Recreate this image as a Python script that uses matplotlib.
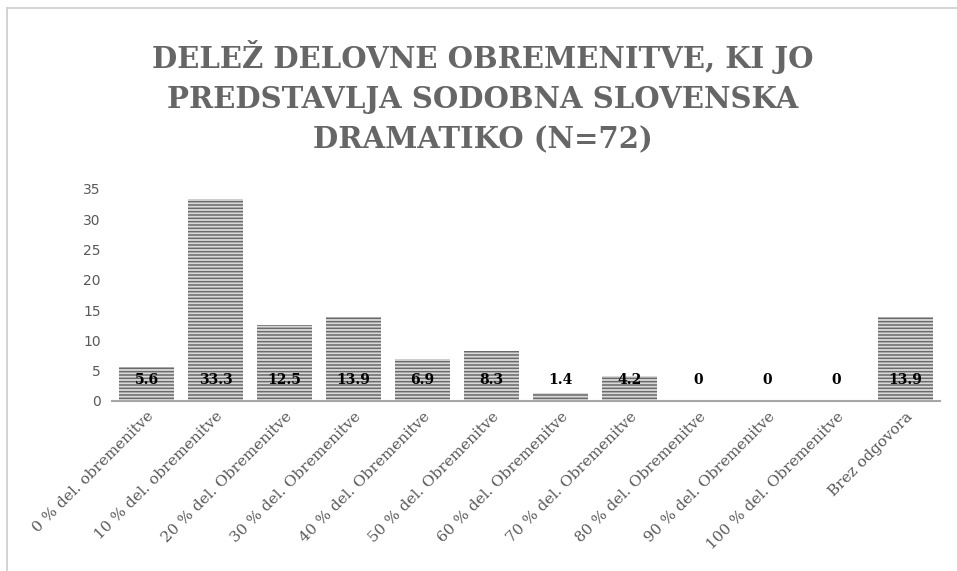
import matplotlib
matplotlib.use('Agg')
from matplotlib import pyplot as plt
from matplotlib.lines import Line2D

# Data
categories = ['0 % del. obremenitve', '10 % del. obremenitve', '20 % del. Obremenitve',
              '30 % del. Obremenitve', '40 % del. Obremenitve', '50 % del. Obremenitve',
              '60 % del. Obremenitve', '70 % del. Obremenitve', '80 % del. Obremenitve',
              '90 % del. Obremenitve', '100 % del. Obremenitve', 'Brez odgovora']
values = [5.6, 33.3, 12.5, 13.9, 6.9, 8.3, 1.4, 4.2, 0, 0, 0, 13.9]
yticks = [0, 5, 10, 15, 20, 25, 30, 35]
title = 'DELEŽ DELOVNE OBREMENITVE, KI JO\nPREDSTAVLJA SODOBNA SLOVENSKA\nDRAMATIKO (N=72)'

plt.rcParams['hatch.linewidth'] = 1.1
fig = plt.figure(figsize=(9.57, 5.71), dpi=100)
ax = fig.add_axes([112/957, 170/571, 828/957, 212/571])

x = list(range(len(values)))
ax.bar(x, values, width=0.8, color='#d9d9d9', edgecolor='#6a6a6a', hatch='-----', linewidth=0)

# data labels near the bottom of each bar
for xi, v in zip(x, values):
    lab = '%g' % v
    ax.text(xi, 3.5, lab, ha='center', va='center', fontsize=10, fontweight='bold',
            color='black', family='DejaVu Serif')

ax.set_xlim(-0.5, len(values) - 0.5)
ax.set_ylim(0, 35)
ax.set_yticks(yticks)
ax.set_yticklabels([str(t) for t in yticks], fontsize=10, color='#595959', family='DejaVu Sans')
ax.set_xticks(x)
ax.set_xticklabels(categories, rotation=45, ha='right', va='top', rotation_mode='anchor',
                   fontsize=11, color='#595959', family='DejaVu Serif')
ax.tick_params(axis='both', length=0)
ax.tick_params(axis='y', pad=8)
ax.tick_params(axis='x', pad=6)
for s in ['top', 'right', 'left']:
    ax.spines[s].set_visible(False)
ax.spines['bottom'].set_color('#a6a6a6')
ax.spines['bottom'].set_linewidth(1.5)

fig.text(483/957, 1 - 97/571, title, ha='center', va='center', fontsize=21,
         fontweight='bold', color='#666666', family='DejaVu Serif', linespacing=1.5)

# chart frame
fig.add_artist(Line2D([7/957, 7/957], [0, 1 - 8/571], color='#cccccc', lw=1.2))
fig.add_artist(Line2D([7/957, 1], [1 - 8/571, 1 - 8/571], color='#cccccc', lw=1.2))

fig.savefig('out.png', dpi=100)
